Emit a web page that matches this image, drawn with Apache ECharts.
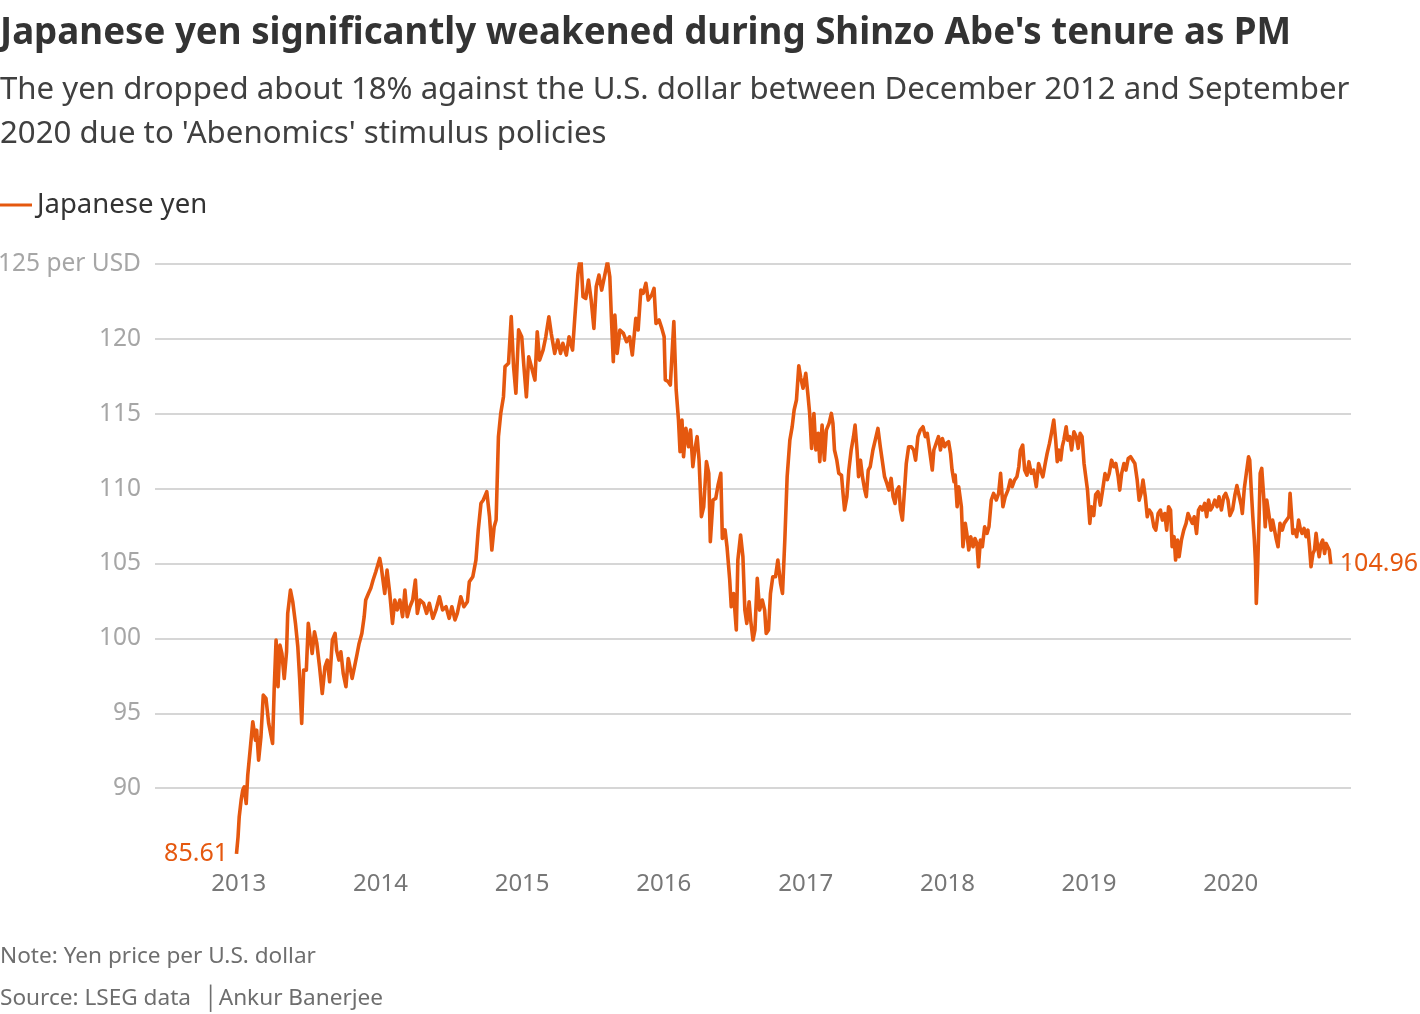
<!DOCTYPE html>
<html style="height: 100%">
<head>
<meta charset="utf-8">
<script src="https://cdn.jsdelivr.net/npm/echarts@6/dist/echarts.min.js"></script>
</head>
<body style="height: 100%; margin: 0; background: #fff">
<div id="container" style="width: 1420px; height: 1014px"></div>
<script type="text/javascript">
// yen per U.S. dollar (roughly every 5 days)
var dates = [
'2012-12-26','2012-12-30','2013-01-02','2013-01-07','2013-01-11','2013-01-15','2013-01-20','2013-01-24','2013-01-30','2013-02-06',
'2013-02-13','2013-02-16','2013-02-21','2013-02-27','2013-03-05','2013-03-12','2013-03-19','2013-03-29','2013-04-02','2013-04-07',
'2013-04-12','2013-04-17','2013-04-22','2013-04-28','2013-05-04','2013-05-07','2013-05-14','2013-05-20','2013-05-27','2013-06-02',
'2013-06-07','2013-06-12','2013-06-17','2013-06-24','2013-06-29','2013-07-04','2013-07-09','2013-07-15','2013-07-21','2013-07-28',
'2013-08-04','2013-08-11','2013-08-17','2013-08-23','2013-08-30','2013-09-06','2013-09-10','2013-09-16','2013-09-21','2013-09-27',
'2013-10-04','2013-10-10','2013-10-16','2013-10-20','2013-10-27','2013-11-02','2013-11-07','2013-11-14','2013-11-20','2013-11-24',
'2013-12-01','2013-12-07','2013-12-13','2013-12-20','2013-12-30','2014-01-03','2014-01-12','2014-01-18','2014-01-25','2014-02-01',
'2014-02-07','2014-02-13','2014-02-20','2014-02-27','2014-03-05','2014-03-11','2014-03-18','2014-03-25','2014-04-01','2014-04-06',
'2014-04-13','2014-04-22','2014-04-30','2014-05-07','2014-05-16','2014-05-24','2014-06-02','2014-06-10','2014-06-19','2014-06-27',
'2014-07-04','2014-07-12','2014-07-18','2014-07-27','2014-08-04','2014-08-13','2014-08-18','2014-08-27','2014-09-04','2014-09-10',
'2014-09-17','2014-09-23','2014-10-02','2014-10-09','2014-10-15','2014-10-21','2014-10-26','2014-11-01','2014-11-07','2014-11-14',
'2014-11-18','2014-11-27','2014-12-04','2014-12-10','2014-12-16','2014-12-23','2014-12-31','2015-01-05','2015-01-12','2015-01-18',
'2015-01-25','2015-02-03','2015-02-09','2015-02-15','2015-02-24','2015-03-03','2015-03-11','2015-03-17','2015-03-26','2015-04-03',
'2015-04-10','2015-04-16','2015-04-25','2015-05-02','2015-05-11','2015-05-17','2015-05-25','2015-06-01','2015-06-07','2015-06-14',
'2015-06-21','2015-06-28','2015-07-05','2015-07-11','2015-07-18','2015-07-25','2015-08-02','2015-08-09','2015-08-15','2015-08-19',
'2015-08-24','2015-08-28','2015-09-03','2015-09-10','2015-09-19','2015-09-27','2015-10-05','2015-10-12','2015-10-21','2015-10-27',
'2015-11-03','2015-11-09','2015-11-16','2015-11-22','2015-12-01','2015-12-07','2015-12-12','2015-12-20','2015-12-27','2016-01-02',
'2016-01-05','2016-01-12','2016-01-18','2016-01-22','2016-01-27','2016-02-02','2016-02-08','2016-02-12','2016-02-17','2016-02-21',
'2016-02-27','2016-03-05','2016-03-10','2016-03-16','2016-03-21','2016-03-27','2016-04-01','2016-04-07','2016-04-13','2016-04-20',
'2016-04-26','2016-04-30','2016-05-07','2016-05-14','2016-05-20','2016-05-27','2016-05-31','2016-06-07','2016-06-12','2016-06-19',
'2016-06-23','2016-06-29','2016-07-06','2016-07-10','2016-07-17','2016-07-23','2016-07-28','2016-08-02','2016-08-08','2016-08-12',
'2016-08-18','2016-08-23','2016-08-29','2016-09-04','2016-09-11','2016-09-17','2016-09-21','2016-09-27','2016-10-02','2016-10-08',
'2016-10-15','2016-10-21','2016-10-28','2016-11-02','2016-11-08','2016-11-14','2016-11-21','2016-11-27','2016-12-02','2016-12-08',
'2016-12-14','2016-12-19','2016-12-25','2017-01-01','2017-01-07','2017-01-11','2017-01-16','2017-01-22','2017-01-27','2017-02-02',
'2017-02-06','2017-02-12','2017-02-18','2017-02-23','2017-03-02','2017-03-08','2017-03-12','2017-03-16','2017-03-22','2017-03-27',
'2017-04-03','2017-04-07','2017-04-11','2017-04-17','2017-04-22','2017-04-28','2017-05-04','2017-05-08','2017-05-13','2017-05-17',
'2017-05-22','2017-05-27','2017-06-02','2017-06-06','2017-06-11','2017-06-16','2017-06-23','2017-06-29','2017-07-06','2017-07-12',
'2017-07-17','2017-07-23','2017-07-29','2017-08-03','2017-08-09','2017-08-14','2017-08-19','2017-08-24','2017-08-29','2017-09-02',
'2017-09-07','2017-09-13','2017-09-17','2017-09-23','2017-09-30','2017-10-06','2017-10-11','2017-10-17','2017-10-23','2017-10-30',
'2017-11-05','2017-11-10','2017-11-16','2017-11-23','2017-11-27','2017-12-03','2017-12-09','2017-12-14','2017-12-19','2017-12-25',
'2017-12-29','2018-01-04','2018-01-09','2018-01-13','2018-01-18','2018-01-21','2018-01-26','2018-01-30','2018-02-06','2018-02-10',
'2018-02-16','2018-02-20','2018-02-25','2018-03-02','2018-03-08','2018-03-13','2018-03-18','2018-03-22','2018-03-27','2018-04-01',
'2018-04-07','2018-04-13','2018-04-18','2018-04-24','2018-04-30','2018-05-07','2018-05-13','2018-05-18','2018-05-24','2018-05-30',
'2018-06-06','2018-06-12','2018-06-17','2018-06-23','2018-06-29','2018-07-04','2018-07-08','2018-07-14','2018-07-19','2018-07-25',
'2018-07-30','2018-08-05','2018-08-11','2018-08-18','2018-08-24','2018-08-29','2018-09-04','2018-09-10','2018-09-15','2018-09-21',
'2018-09-26','2018-10-02','2018-10-07','2018-10-11','2018-10-15','2018-10-20','2018-10-24','2018-10-28','2018-11-03','2018-11-07',
'2018-11-12','2018-11-17','2018-11-23','2018-11-29','2018-12-04','2018-12-09','2018-12-14','2018-12-19','2018-12-23','2018-12-28',
'2019-01-03','2019-01-07','2019-01-13','2019-01-18','2019-01-24','2019-01-30','2019-02-05','2019-02-11','2019-02-17','2019-02-22',
'2019-02-28','2019-03-06','2019-03-11','2019-03-17','2019-03-21','2019-03-26','2019-04-01','2019-04-06','2019-04-12','2019-04-18',
'2019-04-23','2019-04-29','2019-05-05','2019-05-10','2019-05-15','2019-05-20','2019-05-26','2019-05-31','2019-06-05','2019-06-11',
'2019-06-17','2019-06-22','2019-06-28','2019-07-04','2019-07-09','2019-07-15','2019-07-20','2019-07-25','2019-07-30','2019-08-03',
'2019-08-08','2019-08-12','2019-08-17','2019-08-21','2019-08-27','2019-09-02','2019-09-08','2019-09-13','2019-09-18','2019-09-24',
'2019-09-29','2019-10-05','2019-10-10','2019-10-15','2019-10-20','2019-10-26','2019-10-31','2019-11-05','2019-11-10','2019-11-15',
'2019-11-21','2019-11-27','2019-12-02','2019-12-08','2019-12-14','2019-12-19','2019-12-25','2019-12-30','2020-01-06','2020-01-12',
'2020-01-17','2020-01-22','2020-01-28','2020-01-31','2020-02-05','2020-02-10','2020-02-16','2020-02-19','2020-02-23','2020-02-27',
'2020-03-02','2020-03-05','2020-03-07','2020-03-10','2020-03-14','2020-03-17','2020-03-21','2020-03-26','2020-03-30','2020-04-03',
'2020-04-08','2020-04-14','2020-04-18','2020-04-23','2020-04-27','2020-05-02','2020-05-07','2020-05-13','2020-05-18','2020-05-24',
'2020-05-30','2020-06-02','2020-06-05','2020-06-09','2020-06-14','2020-06-19','2020-06-24','2020-06-29','2020-07-03','2020-07-08',
'2020-07-13','2020-07-18','2020-07-22','2020-07-26','2020-07-31','2020-08-04','2020-08-08','2020-08-12','2020-08-16','2020-08-21',
'2020-08-25','2020-08-30','2020-09-03','2020-09-07','2020-09-11','2020-09-15'
];
var yen = [
85.61,86.75,88.08,89.2,89.86,90.09,88.97,90.87,92.5,94.43,
93.2,93.87,91.87,93.43,96.21,95.99,94.32,92.98,96.5,99.88,
96.77,99.55,98.99,97.32,99.1,101.67,103.22,102.44,101.0,99.44,
97.21,94.32,97.88,97.88,101.0,101.11,98.99,100.44,99.66,98.1,
96.32,98.1,98.55,97.1,99.88,100.33,99.2,98.55,99.1,97.66,
96.77,98.66,97.88,97.32,98.21,98.99,99.66,100.33,101.44,102.56,
103.0,103.34,103.9,104.45,105.34,104.79,103.0,104.56,103.0,101.0,
102.56,101.9,102.56,101.45,103.23,101.45,102.11,102.56,103.9,101.67,
102.56,102.34,101.67,102.34,101.34,101.9,102.78,101.9,102.11,101.34,
102.11,101.23,101.67,102.78,102.11,102.45,103.78,104.12,105.23,107.24,
109.02,109.24,109.8,108.13,105.9,107.46,107.9,113.47,115.03,116.14,
118.15,118.37,121.49,118.15,116.37,120.6,120.15,118.36,116.13,118.8,
118.14,117.25,120.48,118.58,119.25,120.14,121.48,120.37,119.03,119.92,
119.03,119.7,118.92,120.14,119.25,121.48,124.37,125.6,122.81,122.7,
123.93,122.59,120.7,123.48,124.26,123.26,124.26,125.15,124.15,121.48,
118.47,121.59,119.03,120.59,120.37,119.81,120.14,118.92,121.37,120.59,
123.26,123.04,123.71,122.59,122.93,123.37,121.03,121.26,120.7,120.14,
117.26,117.15,116.92,118.81,121.15,116.59,114.58,112.47,114.58,112.13,
114.03,112.8,113.92,111.47,112.58,113.47,111.91,108.13,108.79,111.8,
111.02,106.46,109.24,109.35,110.24,111.02,106.68,107.24,106.12,103.9,
102.11,103.0,100.56,105.23,106.9,105.45,101.89,101.0,102.45,101.22,
99.89,100.56,104.01,101.89,102.56,101.89,100.33,100.56,103.0,104.12,
104.12,105.23,103.67,103.0,106.57,110.8,113.25,114.14,115.25,115.92,
118.2,117.4,116.7,117.7,116.14,115.02,112.69,115.02,112.58,113.69,
111.8,114.24,111.9,113.91,114.36,115.02,114.36,112.58,111.9,111.02,
110.9,109.68,108.57,109.46,111.24,112.58,113.47,114.24,112.58,110.8,
111.9,110.8,109.9,109.46,111.24,111.46,112.58,113.24,114.02,112.8,
111.9,110.8,110.35,109.9,110.68,109.46,109.01,109.9,110.12,108.57,
107.9,110.12,111.68,112.8,112.8,112.58,111.9,113.47,113.91,114.13,
113.47,113.69,112.58,111.24,112.58,113.02,113.47,112.58,113.35,112.8,
113.02,113.13,112.35,111.24,110.46,110.9,108.79,110.12,108.79,106.12,
107.68,107.01,105.9,106.79,106.12,106.67,106.34,104.78,106.56,106.12,
107.45,107.01,107.45,109.24,109.68,109.24,109.68,111.02,108.79,109.46,
109.9,110.57,110.13,110.57,110.79,111.46,112.57,112.91,111.24,110.9,
111.8,111.02,111.24,110.13,111.68,111.24,110.79,111.68,112.35,113.02,
113.69,114.58,113.24,111.8,112.58,111.91,112.8,113.24,114.13,113.24,
113.47,112.58,113.8,113.47,112.69,113.69,113.47,111.7,110.9,109.9,
107.68,108.79,108.2,109.6,109.8,108.9,109.9,111.0,110.6,111.02,
111.9,111.46,111.68,110.79,109.9,111.02,111.68,111.24,112.02,112.13,
112.24,111.68,110.57,109.23,109.68,110.57,109.46,108.12,108.57,108.34,
107.45,107.23,108.34,108.57,107.9,108.34,107.23,108.79,108.57,106.12,
106.79,105.23,106.56,105.45,106.56,107.23,107.68,108.34,108.34,107.68,
108.12,107.01,108.57,108.79,108.57,109.01,108.12,109.23,108.57,108.79,
109.23,108.79,109.46,108.57,109.46,109.68,109.23,108.2,108.6,109.6,
110.2,109.6,108.9,108.34,110.0,110.1,112.13,111.91,109.9,108.12,
106.56,105.0,102.33,104.34,107.9,111.02,111.35,109.46,107.45,109.23,
108.34,107.23,107.9,107.23,106.67,106.12,107.68,107.23,107.68,107.9,
108.12,109.68,108.57,107.01,107.23,106.79,107.9,107.23,107.01,107.34,
106.79,107.23,106.12,104.78,105.67,105.9,107.01,106.12,105.45,106.34,
106.56,105.67,106.34,106.12,105.9,104.96
];
var yTicks = [85, 90, 95, 100, 105, 110, 115, 120, 125];

var lineColor = '#e5580f';
var fontName = 'Noto Sans';

var seriesData = [];
for (var i = 0; i < dates.length; i++) {
    seriesData.push([dates[i], yen[i]]);
}

var dom = document.getElementById('container');
var myChart = echarts.init(dom);

var option = {
    backgroundColor: '#fff',
    animation: false,
    textStyle: { fontFamily: fontName },
    title: [
        {
            text: "Japanese yen significantly weakened during Shinzo Abe's tenure as PM",
            left: 0, top: 15, padding: 0,
            textStyle: { fontSize: 36.7, fontWeight: 'bold', color: '#333', fontFamily: fontName }
        },
        {
            text: "The yen dropped about 18% against the U.S. dollar between December 2012 and September\n2020 due to 'Abenomics' stimulus policies",
            left: 0, top: 68, padding: 0,
            textStyle: { fontSize: 31.2, fontWeight: 'normal', color: '#404040', lineHeight: 44, fontFamily: fontName }
        },
        {
            text: 'Note: Yen price per U.S. dollar',
            left: 0, top: 945, padding: 0,
            textStyle: { fontSize: 22.6, fontWeight: 'normal', color: '#6e6e6e', fontFamily: fontName }
        },
        {
            text: 'Source: LSEG data  \u2502Ankur Banerjee',
            left: 0, top: 987, padding: 0,
            textStyle: { fontSize: 22.6, fontWeight: 'normal', color: '#6e6e6e', fontFamily: fontName }
        }
    ],
    legend: {
        left: 0, top: 191, padding: 0,
        icon: 'rect', itemWidth: 32, itemHeight: 3, itemGap: 6,
        textStyle: { fontSize: 27.5, color: '#333', fontFamily: fontName },
        data: ['Japanese yen']
    },
    grid: { left: 155, right: 69, top: 264, bottom: 151, containLabel: false, outerBoundsMode: 'none' },
    xAxis: {
        type: 'time',
        min: '2012-05-30',
        max: '2020-11-06',
        minInterval: 3600 * 24 * 1000 * 365,
        axisLine: { show: false },
        axisTick: { show: false },
        splitLine: { show: false },
        axisLabel: {
            fontSize: 24, color: '#777', margin: 9, fontFamily: fontName,
            formatter: function (v) {
                var d = new Date(v);
                return (d.getMonth() === 0 && d.getDate() === 1) ? String(d.getFullYear()) : '';
            }
        }
    },
    yAxis: {
        type: 'value',
        min: yTicks[0],
        max: yTicks[yTicks.length - 1],
        interval: 5,
        axisLine: { show: false },
        axisTick: { show: false },
        axisLabel: {
            fontSize: 24.5, color: '#a6a6a6', margin: 14, fontFamily: fontName,
            formatter: function (v) {
                if (v === yTicks[0]) return '';
                if (v === yTicks[yTicks.length - 1]) return v + ' per USD';
                return String(v);
            }
        },
        splitLine: {
            lineStyle: {
                color: ['rgba(0,0,0,0)', '#c8c8c8', '#c8c8c8', '#c8c8c8', '#c8c8c8', '#c8c8c8', '#c8c8c8', '#c8c8c8', '#c8c8c8'],
                width: 1.5
            }
        }
    },
    series: [{
        name: 'Japanese yen',
        type: 'line',
        showSymbol: false,
        data: seriesData,
        itemStyle: { color: lineColor },
        lineStyle: { color: lineColor, width: 3.6, join: 'round' },
        endLabel: {
            show: true,
            distance: 9,
            fontSize: 25,
            color: lineColor,
            fontFamily: fontName,
            formatter: function (p) { return p.value[1].toFixed(2); }
        },
        markPoint: {
            symbol: 'circle',
            symbolSize: 1,
            itemStyle: { color: 'rgba(0,0,0,0)' },
            label: {
                show: true,
                position: 'left',
                distance: 8,
                fontSize: 25,
                color: lineColor,
                fontFamily: fontName,
                formatter: function (p) { return p.value.toFixed(2); }
            },
            data: [{ coord: [dates[0], yen[0]], value: yen[0] }]
        }
    }]
};

myChart.setOption(option, true);
</script>
</body>
</html>
